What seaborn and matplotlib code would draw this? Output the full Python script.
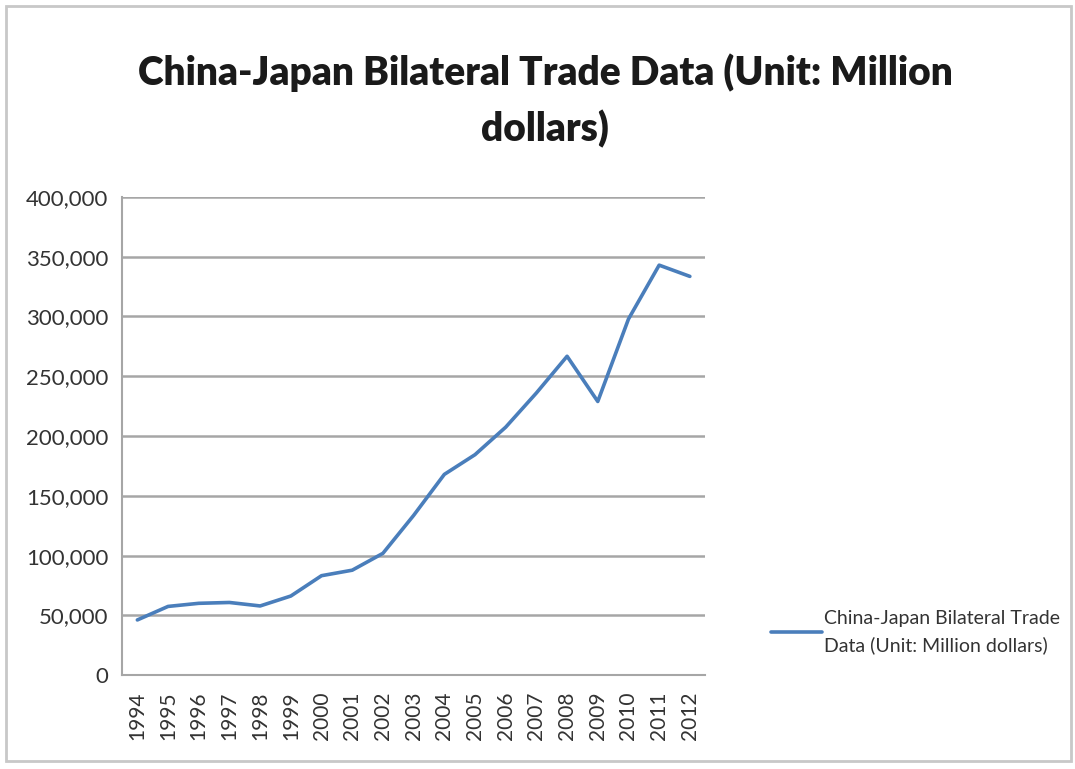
import matplotlib
matplotlib.use("Agg")
import matplotlib.pyplot as plt
import seaborn as sns
import pandas as pd
from matplotlib.ticker import FuncFormatter
from matplotlib.patches import Rectangle

# data (million dollars)
years = ['1994', '1995', '1996', '1997', '1998', '1999', '2000', '2001', '2002', '2003',
         '2004', '2005', '2006', '2007', '2008', '2009', '2010', '2011', '2012']
trade = [46200, 57500, 60100, 60800, 57900, 66200, 83200, 87800, 101900, 133600,
         167900, 184400, 207400, 236000, 266700, 228900, 297800, 342900, 333500]
series_name = 'China-Japan Bilateral Trade\nData (Unit: Million dollars)'
title_text = 'China-Japan Bilateral Trade Data (Unit: Million\ndollars)'

df = pd.DataFrame({'year': years, 'trade': trade})

sns.set_style('white')
plt.rcParams['font.family'] = ['Lato', 'DejaVu Sans']

fig = plt.figure(figsize=(10.75, 7.69), dpi=100)
ax = fig.add_axes([0.1135, 0.122, 0.5425, 0.622])

sns.lineplot(data=df, x='year', y='trade', ax=ax, color='#4a7ebb', linewidth=2.6,
             label=series_name, sort=False)

ax.set_xlim(-0.5, len(years) - 0.5)
ax.set_ylim(0, 400000)
ax.set_yticks(range(0, 400001, 50000))
ax.yaxis.set_major_formatter(FuncFormatter(lambda v, p: f'{int(v):,}'))
ax.grid(axis='y', color='#a6a6a6', linewidth=1.8)
ax.grid(axis='x', visible=False)
ax.set_axisbelow(True)

for s in ['top', 'right']:
    ax.spines[s].set_visible(False)
for s in ['left', 'bottom']:
    ax.spines[s].set_color('#a6a6a6')
    ax.spines[s].set_linewidth(1.5)

# category boundary ticks on x
ax.set_xticks(range(len(years)))
ax.set_xticklabels(years, rotation=90, fontsize=15, color='#333333')
ax.set_xticks([i - 0.5 for i in range(len(years) + 1)], minor=True)
ax.tick_params(axis='x', which='major', length=0, pad=12)
ax.tick_params(axis='x', which='minor', length=6, color='#a6a6a6', width=1.5, direction='out')
ax.tick_params(axis='y', length=6, color='#a6a6a6', width=1.5, direction='out',
               labelsize=16, labelcolor='#333333', pad=4)
ax.set_xlabel('')
ax.set_ylabel('')

fig.text(0.507, 0.93, title_text, ha='center', va='top', fontsize=28,
         fontweight='heavy', color='#1a1a1a', linespacing=1.55)

ax.legend(loc='center left', bbox_to_anchor=(1.083, 0.09), frameon=False,
          fontsize=14, handlelength=2.6, handletextpad=0.1, labelcolor='#333333')
for t in ax.get_legend().get_texts():
    t.set_linespacing(1.65)

fig.patches.append(Rectangle((0.006, 0.01), 0.99, 0.982, transform=fig.transFigure,
                             fill=False, edgecolor='#c8c8c8', linewidth=2))

fig.savefig('out.png', dpi=100)
